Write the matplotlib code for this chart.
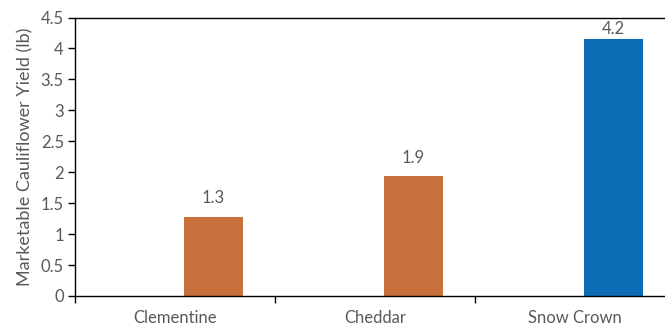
import matplotlib.pyplot as plt
import numpy as np

categories = ["Clementine", "Cheddar", "Snow Crown"]
values = [1.28, 1.94, 4.15]
labels = ["1.3", "1.9", "4.2"]
colors = ["#C8703C", "#C8703C", "#0B6BB5"]

plt.rcParams['font.family'] = ['Lato', 'DejaVu Sans']
txt = "#595959"

fig = plt.figure(figsize=(6.65, 3.28), dpi=100)
ax = fig.add_axes([75/665, 32/328, 590/665, 278.5/328])

x = np.arange(len(categories))
bars = ax.bar(x + 0.19, values, width=0.295, color=colors)
label_offsets = [7.5, 7.5, 1.5]
for b, lab, off in zip(bars, labels, label_offsets):
    ax.annotate(lab, (b.get_x() + b.get_width()/2, b.get_height()),
                xytext=(0, off), textcoords='offset points',
                ha='center', va='bottom', fontsize=12, color=txt)

ax.set_xlim(-0.5, 2.45)
ax.set_ylim(0, 4.5)
ax.set_yticks(np.arange(0, 4.51, 0.5))
ax.set_yticklabels(["0", "0.5", "1", "1.5", "2", "2.5", "3", "3.5", "4", "4.5"])
ax.set_xticks(x)
ax.set_xticklabels(categories)
ax.set_xticks([-0.5, 0.5, 1.5], minor=True)
ax.tick_params(axis='x', which='major', length=0, pad=10, labelsize=12, labelcolor=txt)
ax.tick_params(axis='x', which='minor', length=5, width=1, direction='out')
ax.tick_params(axis='y', length=5, width=1, direction='out', labelsize=12, labelcolor=txt, pad=3)
ax.set_ylabel("Marketable Cauliflower Yield (lb)", fontsize=13, color=txt, labelpad=5)
ax.spines['right'].set_visible(False)
for s in ['left', 'bottom', 'top']:
    ax.spines[s].set_color('black')
    ax.spines[s].set_linewidth(1)

fig.savefig("out.png", dpi=100)
